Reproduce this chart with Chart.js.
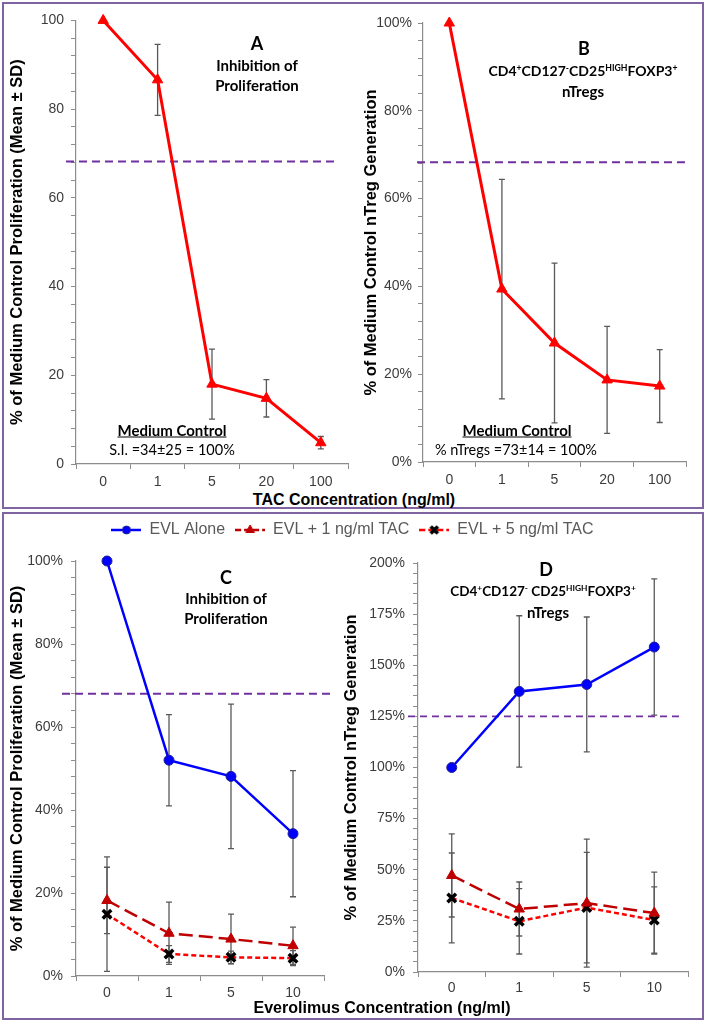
<!DOCTYPE html>
<html>
<head>
<meta charset="utf-8">
<script src="https://cdn.jsdelivr.net/npm/chart.js@4.4.1/dist/chart.umd.min.js"></script>
<style>
body { margin: 0; background: #fff; }
#fig { position: relative; width: 707px; height: 1024px; overflow: hidden; }
.box { position: absolute; box-sizing: border-box; border: 2px solid #8064a2; }
canvas { position: absolute; }
.note { position: absolute; transform: translate(-50%, -50%); white-space: nowrap; text-align: center;
        font: bold 15px Lato, 'Open Sans', sans-serif; line-height: 1; color: #000; }
.note.big { font-size: 18px; }
.note.reg { font-weight: normal; font-size: 14.5px; }
.note.cd { font-size: 14px; }
.note.cd2 { font-size: 13.5px; }
.note sup { font-size: 0.62em; vertical-align: 0.6em; line-height: 0; }
.axt { position: absolute; transform: translate(-50%, -50%); white-space: nowrap;
       font: bold 16px 'Liberation Sans', Arial, sans-serif; color: #000; }
</style>
</head>
<body>
<div id="fig">
  <div class="box" style="left:2px;top:2px;width:702px;height:507px"></div>
  <div class="box" style="left:2px;top:512px;width:702px;height:508px"></div>

  <canvas id="chartA" width="350" height="485" style="left:5px;top:5px"></canvas>
  <canvas id="chartB" width="345" height="483" style="left:355px;top:5px"></canvas>
  <canvas id="chartC" width="695" height="488" style="left:5px;top:512px"></canvas>
  <canvas id="chartD" width="365" height="451" style="left:335px;top:545px"></canvas>

  <div class="note big" style="left:257px;top:43px">A</div>
  <div class="note" style="left:257px;top:65px">Inhibition of</div>
  <div class="note" style="left:257px;top:85px">Proliferation</div>
  <div class="note" style="left:172px;top:430px"><u>Medium Control</u></div>
  <div class="note reg" style="left:172px;top:450px">S.I. =34±25 = 100%</div>

  <div class="note big" style="left:584px;top:48px">B</div>
  <div class="note cd" style="left:583px;top:71px">CD4<sup>+</sup>CD127<sup>-</sup>CD25<sup>HIGH</sup>FOXP3<sup>+</sup></div>
  <div class="note" style="left:583px;top:91px">nTregs</div>
  <div class="note" style="left:517px;top:430px"><u>Medium Control</u></div>
  <div class="note reg" style="left:516px;top:450px">% nTregs =73±14 = 100%</div>

  <div class="axt" style="left:354px;top:500px">TAC Concentration (ng/ml)</div>

  <div class="note big" style="left:226px;top:577px">C</div>
  <div class="note" style="left:226px;top:598px">Inhibition of</div>
  <div class="note" style="left:226px;top:618px">Proliferation</div>

  <div class="note big" style="left:546px;top:569px">D</div>
  <div class="note cd2" style="left:543px;top:592px">CD4<sup>+</sup>CD127<sup>-</sup> CD25<sup>HIGH</sup>FOXP3<sup>+</sup></div>
  <div class="note" style="left:548px;top:612px">nTregs</div>

  <div class="axt" style="left:382px;top:1008px">Everolimus Concentration (ng/ml)</div>
</div>

<script>
// categories (x axis)
var tacDoses = ['0', '1', '5', '20', '100'];
var evlDoses = ['0', '1', '5', '10'];

// A - proliferation, % of medium control (mean, SD)
var aProlifMean = [100, 86.6, 18.0, 14.8, 4.8];
var aProlifSd   = [0, 8.0, 7.9, 4.2, 1.4];

// B - nTreg generation, % of medium control
var bTregMean = [100, 39.4, 27.1, 18.7, 17.3];
var bTregSd   = [0, 25.0, 18.2, 12.2, 8.3];

// C - proliferation with everolimus
var cEvlAlone   = [100, 52.0, 48.1, 34.3];
var cEvlAloneSd = [0, 11.0, 17.4, 15.2];
var cEvlTac1    = [18.2, 10.3, 8.9, 7.3];
var cEvlTac1Sd  = [8.0, 7.5, 6.0, 4.5];
var cEvlTac5    = [14.9, 5.3, 4.5, 4.3];
var cEvlTac5Sd  = [13.8, 2.0, 1.5, 1.8];

// D - nTreg generation with everolimus
var dEvlAlone   = [100, 137.2, 140.6, 158.9];
var dEvlAloneSd = [0, 37.0, 33.0, 33.3];
var dEvlTac1    = [47.2, 30.8, 33.7, 28.8];
var dEvlTac1Sd  = [20.3, 13.2, 31.3, 20.0];
var dEvlTac5    = [36.2, 24.8, 31.5, 25.4];
var dEvlTac5Sd  = [22.0, 16.0, 27.0, 16.2];

// dashed reference lines
var aThreshold = 68.2;
var bThreshold = 68.3;
var cThreshold = 68;
var dThreshold = 125;

var seriesNames = ['EVL Alone', 'EVL + 1 ng/ml TAC', 'EVL + 5 ng/ml TAC'];

Chart.defaults.font.family = "'Liberation Sans', Arial, sans-serif";
var tickColor = '#3c3c3c';
var axisColor = '#8c8c8c';

// error bars drawn from each dataset's "errors" array
var errorBars = {
	id: 'errorBars',
	beforeDatasetsDraw: function(chart) {
		var ctx = chart.ctx, y = chart.scales.y;
		ctx.save();
		ctx.strokeStyle = '#595959';
		ctx.lineWidth = 1.3;
		chart.data.datasets.forEach(function(ds, i) {
			if (!ds.errors) return;
			chart.getDatasetMeta(i).data.forEach(function(pt, j) {
				var sd = ds.errors[j];
				if (!sd) return;
				var top = y.getPixelForValue(ds.data[j] + sd);
				var bot = y.getPixelForValue(ds.data[j] - sd);
				ctx.beginPath();
				ctx.moveTo(pt.x, top); ctx.lineTo(pt.x, bot);
				ctx.moveTo(pt.x - 3, top); ctx.lineTo(pt.x + 3, top);
				ctx.moveTo(pt.x - 3, bot); ctx.lineTo(pt.x + 3, bot);
				ctx.stroke();
			});
		});
		ctx.restore();
	}
};

var threshold = {
	id: 'threshold',
	beforeDatasetsDraw: function(chart, args, opts) {
		var a = chart.chartArea, ctx = chart.ctx;
		var py = chart.scales.y.getPixelForValue(opts.value);
		ctx.save();
		ctx.strokeStyle = '#7030a0';
		ctx.lineWidth = opts.width || 2;
		ctx.setLineDash(opts.dash || [8, 5]);
		ctx.beginPath();
		ctx.moveTo(a.left + opts.from, py);
		ctx.lineTo(a.right + opts.to, py);
		ctx.stroke();
		ctx.restore();
	}
};

// gap between legend and plot in panel C
var legendGap = {
	id: 'legendGap',
	afterInit: function(chart, args, opts) {
		var legend = chart.legend;
		if (!legend) return;
		var fit = legend.fit;
		legend.fit = function() {
			fit.call(this);
			this.height += opts.extra || 0;
		};
	}
};

function yScale(max, step, major, suffix, title, width, pad) {
	return {
		min: 0, max: max,
		grid: { drawOnChartArea: false, tickLength: 5, color: axisColor },
		border: { color: axisColor, width: 1.2 },
		ticks: {
			stepSize: step, autoSkip: false, padding: pad, color: tickColor, font: { size: 14 },
			callback: function(v) { return v % major === 0 ? v + suffix : ''; }
		},
		title: { display: true, text: title, color: '#000', font: { size: 16.5, weight: 'bold' }, padding: { top: 3, bottom: 3 } },
		afterFit: function(s) { s.width = width; }
	};
}

function xScale(pad, height) {
	return {
		type: 'category', offset: true,
		grid: { offset: true, drawOnChartArea: false, tickLength: 5, color: axisColor },
		border: { color: axisColor, width: 1.2 },
		ticks: { padding: pad, color: tickColor, font: { size: 14 }, autoSkip: false, maxRotation: 0 },
		afterFit: function(s) { s.height = height; }
	};
}

function redTriangles(label, data, errors) {
	return {
		label: label, data: data, errors: errors,
		borderColor: '#ff0000', backgroundColor: '#ff0000', borderWidth: 3,
		pointStyle: 'triangle', pointRadius: 6, pointBorderWidth: 1,
		clip: false
	};
}

function evlSeries(idx, data, errors) {
	var styles = [
		{ borderColor: '#0000ff', backgroundColor: '#0000ff', borderDash: [], pointStyle: 'circle', pointRadius: 5,
		  pointBorderColor: '#1e1e8f', pointBorderWidth: 1 },
		{ borderColor: '#c00000', backgroundColor: '#c00000', borderDash: [14, 6], pointStyle: 'triangle', pointRadius: 6,
		  pointBorderColor: '#c00000', pointBorderWidth: 1 },
		{ borderColor: '#ff0000', backgroundColor: '#000', borderDash: [5, 3], pointStyle: 'crossRot', pointRadius: 6,
		  pointBorderColor: '#000', pointBorderWidth: 3.5 }
	];
	var s = styles[idx];
	s.label = seriesNames[idx];
	s.data = data;
	s.errors = errors;
	s.borderWidth = 2.5;
	s.clip = false;
	return s;
}

// legend glyph: short line sample with the marker on it
function legendIcon(ds) {
	var c = document.createElement('canvas');
	c.width = 30; c.height = 14;
	var g = c.getContext('2d');
	g.strokeStyle = ds.borderColor;
	g.lineWidth = 2.5;
	g.setLineDash(ds.borderDash.length ? [6, 3] : []);
	g.beginPath(); g.moveTo(0, 7); g.lineTo(30, 7); g.stroke();
	g.setLineDash([]);
	g.fillStyle = ds.backgroundColor;
	g.strokeStyle = ds.pointBorderColor;
	g.lineWidth = ds.pointBorderWidth;
	Chart.helpers.drawPoint(g, { pointStyle: ds.pointStyle, radius: ds.pointRadius - 1, rotation: 0, borderWidth: ds.pointBorderWidth }, 15, 7);
	return c;
}

function baseOptions(scales, padding, extra) {
	var o = {
		responsive: false, animation: false,
		layout: { padding: padding },
		scales: scales,
		plugins: { legend: { display: false }, tooltip: { enabled: false } }
	};
	for (var k in extra) o.plugins[k] = extra[k];
	return o;
}

// Panel A
new Chart(document.getElementById('chartA'), {
	type: 'line',
	data: { labels: tacDoses, datasets: [redTriangles('Proliferation', aProlifMean, aProlifSd)] },
	options: baseOptions({
		x: xScale(5, 26),
		y: yScale(100, 4, 20, '', '% of Medium Control Proliferation (Mean ± SD)', 71, 7)
	}, { left: 0, top: 15, right: 4, bottom: 0 }, { threshold: { value: aThreshold, from: -10, to: -11 } }),
	plugins: [errorBars, threshold]
});

// Panel B
new Chart(document.getElementById('chartB'), {
	type: 'line',
	data: { labels: tacDoses, datasets: [redTriangles('nTregs', bTregMean, bTregSd)] },
	options: baseOptions({
		x: xScale(5, 26),
		y: yScale(100, 4, 20, '%', '% of Medium Control nTreg Generation', 64, 6)
	}, { left: 4, top: 18, right: 14, bottom: 0 }, { threshold: { value: bThreshold, from: -6, to: 4 } }),
	plugins: [errorBars, threshold]
});

// Panel C (carries the shared legend)
var cSets = [evlSeries(0, cEvlAlone, cEvlAloneSd), evlSeries(1, cEvlTac1, cEvlTac1Sd), evlSeries(2, cEvlTac5, cEvlTac5Sd)];
var cScales = {
	x: xScale(4, 24),
	y: yScale(100, 4, 20, '%', '% of Medium Control Proliferation (Mean ± SD)', 71, 8),
	room: {
		position: 'right', display: true,
		grid: { display: false }, border: { display: false }, ticks: { display: false },
		afterFit: function(s) { s.width = 376; }
	}
};
new Chart(document.getElementById('chartC'), {
	type: 'line',
	data: { labels: evlDoses, datasets: cSets },
	options: baseOptions(cScales, { left: 0, top: 0, right: 0, bottom: 0 }, {
		threshold: { value: cThreshold, from: -14, to: 10 },
		legendGap: { extra: 13 },
		legend: {
			display: true, position: 'top',
			labels: {
				usePointStyle: true, pointStyleWidth: 30, padding: 10, color: '#595959', font: { size: 16 },
				generateLabels: function(chart) {
					return chart.data.datasets.map(function(ds, i) {
						return { text: ds.label, pointStyle: legendIcon(ds), fillStyle: 'transparent',
							strokeStyle: 'transparent', lineWidth: 0, hidden: false, datasetIndex: i, fontColor: '#595959' };
					});
				}
			}
		}
	}),
	plugins: [legendGap, errorBars, threshold]
});

// Panel D
var dSets = [evlSeries(0, dEvlAlone, dEvlAloneSd), evlSeries(1, dEvlTac1, dEvlTac1Sd), evlSeries(2, dEvlTac5, dEvlTac5Sd)];
new Chart(document.getElementById('chartD'), {
	type: 'line',
	data: { labels: evlDoses, datasets: dSets },
	options: baseOptions({
		x: xScale(3, 24),
		y: yScale(200, 5, 25, '%', '% of Medium Control nTreg Generation', 79, 8)
	}, { left: 4, top: 18, right: 12, bottom: 0 }, { threshold: { value: dThreshold, from: -10, to: -6, width: 1.6, dash: [7, 5] } }),
	plugins: [errorBars, threshold]
});
</script>
</body>
</html>
